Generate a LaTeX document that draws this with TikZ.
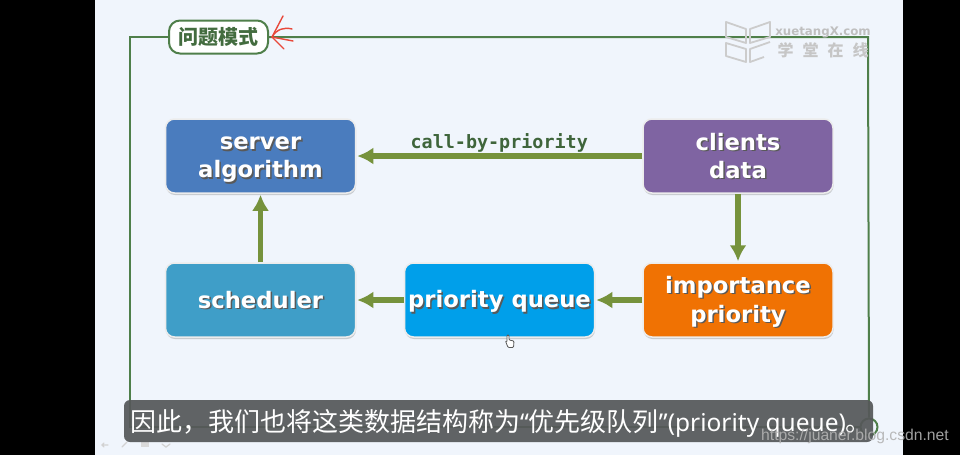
\documentclass[tikz,border=0pt]{standalone}
\usepackage{fontspec}
\setmainfont{DejaVu Sans}
\newfontfamily\cjkfont{Noto Sans CJK SC}
\newfontfamily\subfont{Noto Sans}
\newfontfamily\codefont{DejaVu Sans Mono}
\newfontfamily\urlfont{Liberation Sans}
\usetikzlibrary{arrows.meta,shadows}

\definecolor{slidebg}{HTML}{F0F5FC}
\definecolor{framegreen}{HTML}{4F7F4A}
\definecolor{flowgreen}{HTML}{76923C}
\definecolor{serverblue}{HTML}{4A7CBE}
\definecolor{clientpurple}{HTML}{7F64A2}
\definecolor{schedblue}{HTML}{3F9EC8}
\definecolor{queueblue}{HTML}{009FEA}
\definecolor{prioorange}{HTML}{F07203}
\definecolor{subgray}{HTML}{56585A}
\definecolor{redmark}{HTML}{E8483A}

% white box text with a hard shadow
\newcommand{\boxline}[1]{\leavevmode\rule[-6pt]{0pt}{28pt}\rlap{\kern1.5pt\raisebox{-1.5pt}{\color{black!65}#1}}#1}

\tikzset{
  taskbox/.style={draw=white!85!gray,line width=1.5pt,rounded corners=9pt,
    drop shadow={shadow xshift=.5pt,shadow yshift=-2pt,opacity=.35},
    minimum width=190pt,minimum height=74pt,inner sep=0pt,align=center,
    text=white,font=\fontsize{22.7}{28}\selectfont\bfseries},
  flow/.style={-{Latex[length=16pt,width=17pt]},line width=5.5pt,flowgreen,shorten >=1pt},
  frameline/.style={framegreen,line width=2pt},
  redstroke/.style={redmark,line width=1.4pt,line cap=round},
  faint/.style={gray!35,line width=1.3pt,line cap=round}
}

\begin{document}
\begin{tikzpicture}[x=1pt,y=-1pt,>=Latex]
  \useasboundingbox (0,0) rectangle (960,455);
  \fill[black] (0,0) rectangle (960,455);
  \fill[slidebg] (95,0) rectangle (903,455);

  % frame and title
  \node[draw=framegreen,line width=2pt,fill=white,rounded corners=11pt,
    minimum width=99pt,minimum height=33pt,inner sep=0pt,text=framegreen!85!black,
    font=\cjkfont\bfseries\fontsize{20}{24}\selectfont] (title) at (218.5,37) {问题模式};
  \coordinate (topright) at (868,37);
  \coordinate (botleft) at (130,427);
  \node[draw=framegreen,line width=2pt,circle,minimum size=17pt,inner sep=0pt] (endmark) at (869,427) {};
  \draw[frameline] (title.west) -| (botleft) -- (endmark.west);
  \draw[frameline] (title.east) -- (topright) -- (endmark.north);

  % red mark at the title
  \coordinate (redtip) at (272,37);
  \draw[redstroke] (redtip) -- (283,16);
  \draw[redstroke] (redtip) .. controls (277,29) and (284,27) .. (292,29);
  \draw[redstroke] (redtip) -- (293,41);
  \draw[redstroke] (redtip) -- (284,49);

  % watermark
  \begin{scope}[gray!40,line width=1.8pt,line join=round]
    \draw (726,22) -- (746,29) -- (746,43) -- (726,37) -- cycle;
    \draw (770,22) -- (750,29) -- (750,43) -- (770,37) -- cycle;
    \draw (726,43) -- (746,49) -- (746,62) -- (726,56) -- cycle;
    \draw (770,42) -- (750,49) -- (750,62) -- (764,57);
  \end{scope}
  \node[gray!50,font=\fontsize{11.8}{14}\selectfont\bfseries,inner sep=0pt] (brand) at (823,32) {xuetangX.com};
  \node[gray!45,font=\cjkfont\bfseries\fontsize{16}{18}\selectfont,inner sep=0pt] (brandcn) at (823,50) {学\hspace{9pt}堂\hspace{9pt}在\hspace{9pt}线};

  % boxes
  \node[taskbox,fill=serverblue] (server) at (260.5,156) {\boxline{server}\\\boxline{algorithm}};
  \node[taskbox,fill=clientpurple] (clients) at (738,156) {\boxline{clients}\\\boxline{data}};
  \node[taskbox,fill=schedblue] (scheduler) at (260.5,300) {\boxline{scheduler}};
  \node[taskbox,fill=queueblue] (queue) at (499.5,300) {\boxline{priority queue}};
  \node[taskbox,fill=prioorange] (importance) at (738,300) {\boxline{importance}\\\boxline{priority}};

  \draw[flow] (clients.west) -- node[above=1pt,text=framegreen!80!black,
    font=\codefont\bfseries\fontsize{18.4}{20}\selectfont,inner sep=0pt] (calllabel) {call-by-priority} (server.east);
  \draw[flow] (clients.south) -- (importance.north);
  \draw[flow] (importance.west) -- (queue.east);
  \draw[flow] (queue.west) -- (scheduler.east);
  \draw[flow] (scheduler.north) -- (server.south);

  % mouse pointer
  \draw[gray!70!black,fill=white,line width=.8pt,rounded corners=1pt]
    (507,335) -- (507,342) -- (505.5,341) -- (508,347.5) -- (513.5,347.5) -- (514,341) -- (509,340) -- (509,335) -- cycle;

  % slide controls
  \draw[faint] (108,445) -- (102,445) (104,443) -- (102,445) -- (104,447);
  \draw[faint] (122,447) -- (127,442);
  \fill[gray!30] (141,442) rectangle (149,447);
  \draw[faint] (162,444) -- (166,447) -- (170,444);

  % subtitle
  \fill[subgray,opacity=.93,rounded corners=6pt] (124,400) rectangle (873,442);
  \node[anchor=west,text=white,inner sep=0pt,font=\cjkfont\fontsize{26}{30}\selectfont] (subtitle) at (130,423)
    {因此，我们也将这类数据结构称为{\subfont\fontsize{24.5}{30}\selectfont“}优先级队列{\subfont\fontsize{24.5}{30}\selectfont”(priority queue)}。};
  \node[anchor=east,text=gray!60,opacity=.9,inner sep=0pt,font=\urlfont\fontsize{15.7}{18}\selectfont] (site) at (949,436)
    {https://juaner.blog.csdn.net};
\end{tikzpicture}
\end{document}
